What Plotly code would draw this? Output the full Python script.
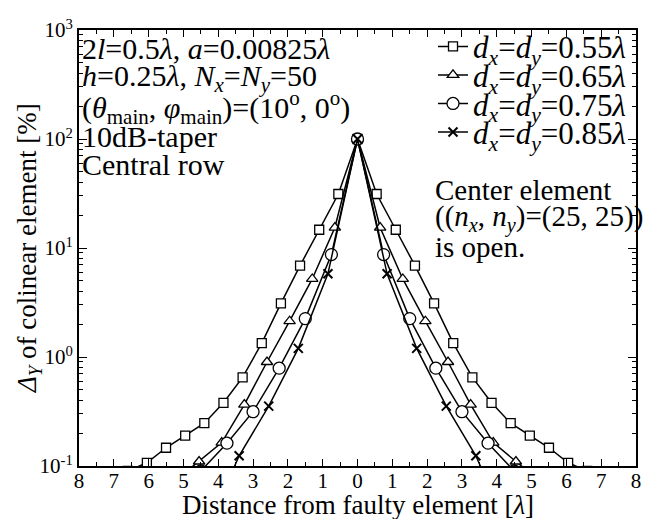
import plotly.graph_objects as go

# ---------------- data ----------------
spacings = [0.55, 0.65, 0.75, 0.85]
labels = ["0.55", "0.65", "0.75", "0.85"]
# one-sided values (distance = k * spacing, k = 0, 1, 2, ...), mirrored for negative side
vals_055 = [100, 31.3, 14.7, 6.9, 3.1, 1.34, 0.65, 0.38, 0.247, 0.19, 0.147, 0.107, 0.09]
vals_065 = [100, 15.4, 5.2, 2.13, 0.9, 0.366, 0.164, 0.11, 0.075]
vals_075 = [100, 8.7, 2.25, 0.79, 0.315, 0.162, 0.09]
vals_085 = [100, 5.8, 1.2, 0.354, 0.124, 0.03]
series_vals = [vals_055, vals_065, vals_075, vals_085]
symbols = ["square", "triangle-up", "circle", "x-thin"]
marker_sizes = [9, 10, 12, 9]
legend_ids = ["legend", "legend2", "legend3", "legend4"]

x_tickvals = list(range(-8, 9))
x_ticktext = [str(abs(v)) for v in x_tickvals]
y_tickvals = [0.1, 1, 10, 100, 1000]
y_ticktext = ["10<sup>-1</sup>", "10<sup>0</sup>", "10<sup>1</sup>", "10<sup>2</sup>", "10<sup>3</sup>"]
y_minor = [m * 10 ** e for e in range(-1, 3) for m in range(2, 10)]

FONT = "Liberation Serif"
OFF = 8                              # page body margin offset
W, H = 652 - OFF, 519 - OFF
PL, PR, PT, PB = 79, 636, 23, 466    # plot area in window pixels


def px_x(px):
    return (px - PL) / (PR - PL)


def px_y(py):
    return 1 - (py - PT) / (PB - PT)


fig = go.Figure()
for d, lab, vals, sym, ms, lg in zip(spacings, labels, series_vals, symbols, marker_sizes, legend_ids):
    n = len(vals)
    xs = [-(k * d) for k in range(n - 1, 0, -1)] + [k * d for k in range(n)]
    ys = list(reversed(vals[1:])) + vals
    if sym == "x-thin":
        marker = dict(symbol=sym, size=ms, color="black", line=dict(color="black", width=2))
    else:
        marker = dict(symbol=sym, size=ms, color="white", line=dict(color="black", width=1.3))
    fig.add_trace(go.Scatter(
        x=xs, y=ys, mode="lines+markers",
        line=dict(color="black", width=1.5),
        marker=marker, legend=lg,
        name=f"<i>d</i><sub><i>x</i></sub>=<i>d</i><sub><i>y</i></sub>={lab}<i>λ</i>",
    ))

legend_y = [40, 69, 98, 127]
legend_common = dict(xanchor="left", yanchor="middle", bgcolor="rgba(0,0,0,0)",
                     font=dict(family=FONT, size=31, color="black"), borderwidth=0)
layout_legends = {}
for lg, yy in zip(legend_ids, legend_y):
    layout_legends[lg] = dict(x=px_x(433), y=px_y(yy), **legend_common)

fig.update_layout(
    width=W, height=H,
    margin=dict(l=PL - OFF, r=652 - PR, t=PT - OFF, b=519 - PB),
    paper_bgcolor="white", plot_bgcolor="white",
    font=dict(family=FONT, size=20, color="black"),
    showlegend=True,
    **layout_legends,
    xaxis=dict(
        range=[-8, 8], tickmode="array", tickvals=x_tickvals, ticktext=x_ticktext,
        ticks="inside", ticklen=7, tickwidth=1.2, tickcolor="black",
        minor=dict(ticks="inside", ticklen=4, tickwidth=1.2, tickcolor="black", dtick=0.5, tick0=0),
        showline=True, linecolor="black", linewidth=2, mirror="ticks",
        showgrid=False, zeroline=False, automargin=False, ticklabelstandoff=-5,
        tickfont=dict(family=FONT, size=21, color="black"),
    ),
    yaxis=dict(
        type="log", range=[-1, 3], tickmode="array", tickvals=y_tickvals, ticktext=y_ticktext,
        ticks="inside", ticklen=8, tickwidth=1.2, tickcolor="black",
        minor=dict(ticks="inside", ticklen=4, tickwidth=1, tickcolor="black", tickmode="array", tickvals=y_minor),
        showline=True, linecolor="black", linewidth=2, mirror="ticks",
        showgrid=False, zeroline=False, automargin=False,
        tickfont=dict(family=FONT, size=21, color="black"),
    ),
)

# axis titles
fig.add_annotation(text="Distance from faulty element [<i>λ</i>]", xref="paper", yref="paper",
                   x=0.5, y=px_y(488), xanchor="center", yanchor="top", showarrow=False,
                   font=dict(family=FONT, size=27, color="black"))
fig.add_annotation(text="<i>Δ</i><sub><i>Y</i></sub> of colinear element [%]", xref="paper", yref="paper",
                   x=px_x(29), y=0.5, xanchor="center", yanchor="middle", showarrow=False, textangle=-90,
                   font=dict(family=FONT, size=27, color="black"))

left_lines = [
    "2<i>l</i>=0.5<i>λ</i>, <i>a</i>=0.00825<i>λ</i>",
    "<i>h</i>=0.25<i>λ</i>, <i>N</i><sub><i>x</i></sub>=<i>N</i><sub><i>y</i></sub>=50",
    "(<i>θ</i><sub>main</sub>, <i>φ</i><sub>main</sub>)=(10<sup>o</sup>, 0<sup>o</sup>)",
    "10dB-taper",
    "Central row",
]
left_y = [42, 72, 102, 131, 160]
for t, yy in zip(left_lines, left_y):
    fig.add_annotation(text=t, xref="paper", yref="paper", x=px_x(80), y=px_y(yy),
                       xanchor="left", yanchor="middle", showarrow=False,
                       font=dict(family=FONT, size=30, color="black"))

right_lines = [
    "Center element",
    "((<i>n</i><sub><i>x</i></sub>, <i>n</i><sub><i>y</i></sub>)=(25, 25))",
    "is open.",
]
right_y = [186, 215, 243]
for t, yy in zip(right_lines, right_y):
    fig.add_annotation(text=t, xref="paper", yref="paper", x=px_x(433), y=px_y(yy),
                       xanchor="left", yanchor="middle", showarrow=False,
                       font=dict(family=FONT, size=29, color="black"))

fig.write_html("out.html")
